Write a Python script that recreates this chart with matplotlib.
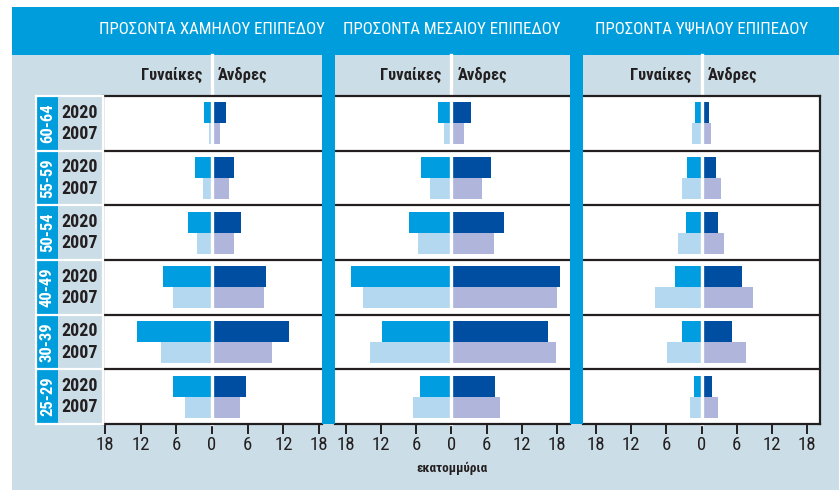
"""Income pyramid by level (low / middle / high), women vs men, 2020 vs 2007."""

import numpy as np
import matplotlib
matplotlib.use("Agg")
import matplotlib.pyplot as plt
from matplotlib.patches import Rectangle

# ---- data (millions), age groups top to bottom ----
ages = ["60-64", "55-59", "50-54", "40-49", "30-39", "25-29"]
years = ["2020", "2007"]
panel_titles = ["ΠΡΟΣΟΝΤΑ ΧΑΜΗΛΟΥ ΕΠΙΠΕΔΟΥ",
                "ΠΡΟΣΟΝΤΑ ΜΕΣΑΙΟΥ ΕΠΙΠΕΔΟΥ",
                "ΠΡΟΣΟΝΤΑ ΥΨΗΛΟΥ ΕΠΙΠΕΔΟΥ"]

low_women_2020 = [1.3, 2.9, 4.0, 8.3, 12.6, 6.6]
low_women_2007 = [0.45, 1.5, 2.5, 6.6, 8.6, 4.6]
low_men_2020 = [2.3, 3.7, 4.9, 9.1, 13.0, 5.7]
low_men_2007 = [1.35, 2.9, 3.7, 8.8, 10.1, 4.7]

mid_women_2020 = [2.3, 5.2, 7.3, 17.2, 11.9, 5.4]
mid_women_2007 = [1.3, 3.7, 5.7, 15.1, 13.9, 6.6]
mid_men_2020 = [3.3, 6.75, 9.0, 18.5, 16.5, 7.4]
mid_men_2007 = [2.1, 5.2, 7.3, 18.0, 17.8, 8.3]

high_women_2020 = [1.1, 2.5, 2.65, 4.5, 3.3, 1.3]
high_women_2007 = [1.6, 3.3, 4.0, 7.9, 5.9, 2.0]
high_men_2020 = [1.3, 2.5, 2.8, 6.9, 5.2, 1.8]
high_men_2007 = [1.6, 3.3, 3.85, 8.8, 7.6, 2.8]

ticks = [-18, -12, -6, 0, 6, 12, 18]

# ---- style ----
BG = "#cbdde6"
BLUE = "#009ddc"
C_W20 = "#009ee0"
C_W07 = "#b5d8f1"
C_M20 = "#004ea1"
C_M07 = "#b0b5dc"
INK = "#231f20"
plt.rcParams["font.family"] = ["Roboto Condensed", "DejaVu Sans"]

W, H = 839, 490


def px_box(x0, y0, x1, y1):
    return [x0 / W, 1 - y1 / H, (x1 - x0) / W, (y1 - y0) / H]


def fig_rect(fig, x0, y0, x1, y1, color, z):
    fig.patches.append(Rectangle((x0 / W, 1 - y1 / H), (x1 - x0) / W, (y1 - y0) / H,
                                 transform=fig.transFigure, color=color,
                                 zorder=z, lw=0))


fig = plt.figure(figsize=(W / 100, H / 100), dpi=100)
fig.patch.set_facecolor("white")
fig_rect(fig, 12, 7, W, H, BG, -20)
fig_rect(fig, 12, 7, W, 55, BLUE, -19)

TOP, BOT = 96, 424
PH = BOT - TOP
n = len(ages)
row_c = np.arange(n) + 0.5          # row centres (inverted y)
bar_h = 0.385

panels = [
    (103, 322, (-18.35, 18.5), low_women_2020, low_women_2007, low_men_2020, low_men_2007),
    (335, 570, (-19.9, 20.25), mid_women_2020, mid_women_2007, mid_men_2020, mid_men_2007),
    (583, 820, (-20.26, 20.26), high_women_2020, high_women_2007, high_men_2020, high_men_2007),
]

for k, (x0, x1, xl, w20, w07, m20, m07) in enumerate(panels):
    ax = fig.add_axes(px_box(x0, TOP, x1, BOT))
    ax.set_facecolor("white")
    ax.set_xlim(*xl)
    ax.set_ylim(n, 0)
    ax.barh(row_c - bar_h / 2, -np.array(w20), height=bar_h, color=C_W20, lw=0)
    ax.barh(row_c + bar_h / 2, -np.array(w07), height=bar_h, color=C_W07, lw=0)
    ax.barh(row_c - bar_h / 2, m20, height=bar_h, color=C_M20, lw=0)
    ax.barh(row_c + bar_h / 2, m07, height=bar_h, color=C_M07, lw=0)
    # centre gap, reaching up into the sub-header strip
    ax.axvline(0, ymin=0, ymax=1 + 41 / PH, color="white", lw=2.4,
               clip_on=False, zorder=3)
    for b in range(1, n):
        ax.axhline(b, color=INK, lw=1.6, zorder=4)

    for s in ax.spines.values():
        s.set_color(INK)
        s.set_linewidth(1.6)
        s.set_zorder(5)
    ax.spines["left"].set_visible(k == 0)
    ax.spines["right"].set_visible(k == 2)

    ax.set_yticks([])
    ax.set_xticks(ticks)
    ax.set_xticklabels([str(abs(t)) for t in ticks])
    ax.tick_params(axis="x", length=7, width=1.4, color=INK, labelsize=13.5,
                   labelcolor=INK, pad=1.5)

    tr = ax.get_xaxis_transform()
    ax.text(0, 1 + (BOT - 30 - PH) / PH, panel_titles[k], transform=tr,
            ha="center", va="center", color="white", fontsize=12.2)
    ax.text(-1.7, 1 + 21 / PH, "Γυναίκες", transform=tr, ha="right",
            va="center", color=INK, fontsize=12, fontweight="bold")
    ax.text(1.0, 1 + 21 / PH, "Άνδρες", transform=tr, ha="left",
            va="center", color=INK, fontsize=12, fontweight="bold")
    if k == 1:
        ax.text(0, -(468 - BOT) / PH, "εκατομμύρια", transform=tr,
                ha="center", va="center", color=INK, fontsize=9.5,
                fontweight="bold")

# blue separators between panels
fig_rect(fig, 322, 55, 335, BOT, BLUE, 10)
fig_rect(fig, 570, 55, 583, BOT, BLUE, 10)

# ---- row labels: age boxes + years ----
lab = fig.add_axes(px_box(36, TOP, 103, BOT))
lab.set_facecolor(BG)
lab.set_xlim(0, 67)
lab.set_ylim(n, 0)
lab.set_xticks([])
lab.set_yticks([])
for s in lab.spines.values():
    s.set_color("white")
    s.set_linewidth(1.6)
for i, age in enumerate(ages):
    lab.add_patch(Rectangle((1, i), 21, 1, color=BLUE, lw=0))
    lab.text(11.5, row_c[i], age, rotation=90, ha="center", va="center",
             color="white", fontsize=12, fontweight="bold")
    lab.text(44, row_c[i] - bar_h / 2, years[0], ha="center", va="center",
             color=INK, fontsize=13, fontweight="bold")
    lab.text(44, row_c[i] + bar_h / 2, years[1], ha="center", va="center",
             color=INK, fontsize=13, fontweight="bold")
for b in range(1, n):
    lab.axhline(b, color="white", lw=1.6)

fig.savefig("out.png", dpi=100)
